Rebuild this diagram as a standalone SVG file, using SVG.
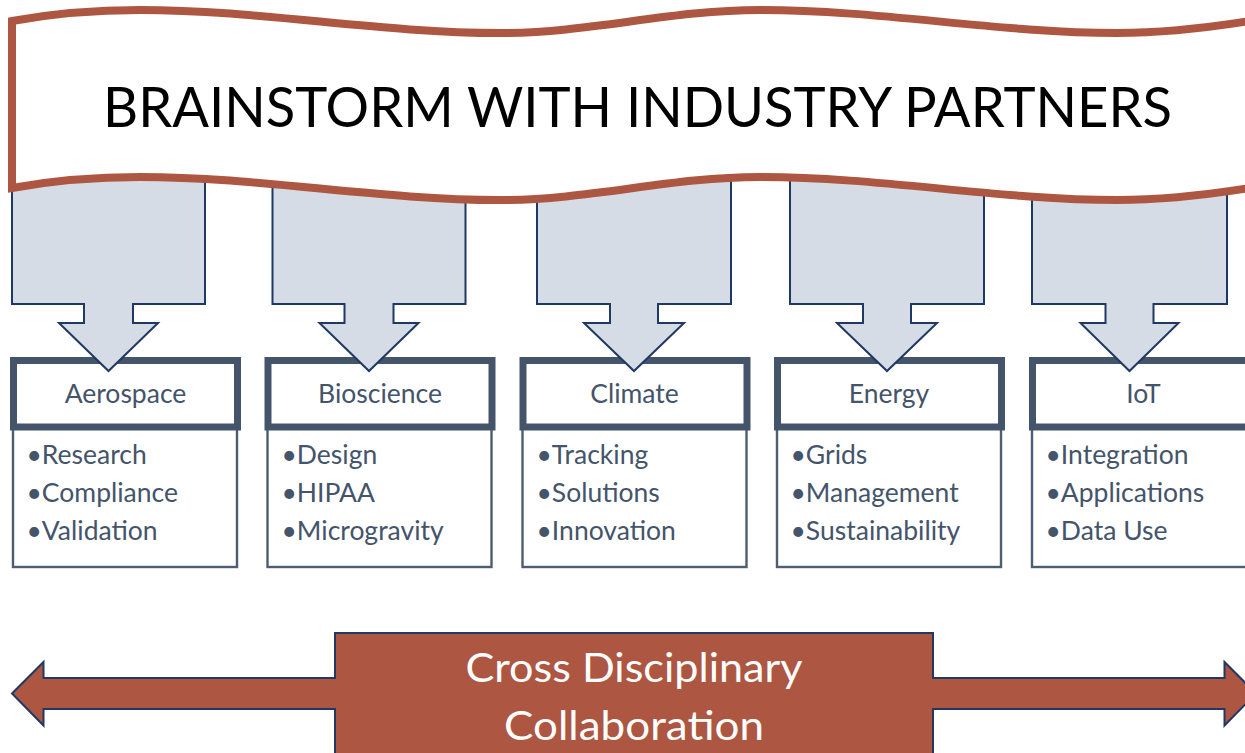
<svg xmlns="http://www.w3.org/2000/svg" width="1245" height="753" viewBox="0 0 1245 753">
<style>
.arrow{fill:#D6DCE5;stroke:#1F3864;stroke-width:2;stroke-linejoin:miter}
.head{fill:#FFFFFF;stroke:#44546A;stroke-width:7}
.body{fill:#FFFFFF;stroke:#4D5D73;stroke-width:2.4}
.ht{font-family:Lato,"Liberation Sans",sans-serif;font-size:26.5px;fill:#44546A;text-anchor:middle}
.bt{font-family:Lato,"Liberation Sans",sans-serif;font-size:26.5px;fill:#44546A}
.banner{fill:#FFFFFF;stroke:#AD5641;stroke-width:8;stroke-linejoin:miter}
.title{font-family:Lato,"Liberation Sans",sans-serif;font-size:57px;fill:#000000;text-anchor:middle}
.collab{fill:#AD5641;stroke:#1F3864;stroke-width:2}
.ct{font-family:Lato,"Liberation Sans",sans-serif;font-size:40px;fill:#FFFFFF;text-anchor:middle}
</style>

<g id="node-aerospace">
<rect class="body" x="13" y="427" width="224" height="140"/>
<rect class="head" x="13.5" y="360.5" width="224" height="66.5"/>
<text class="ht" x="125.5" y="403">Aerospace</text>
<text class="bt" x="26.5" y="464">•Research</text>
<text class="bt" x="26.5" y="502">•Compliance</text>
<text class="bt" x="26.5" y="540">•Validation</text>
</g>
<g id="node-bioscience">
<rect class="body" x="267.5" y="427" width="224" height="140"/>
<rect class="head" x="268" y="360.5" width="224" height="66.5"/>
<text class="ht" x="380" y="403">Bioscience</text>
<text class="bt" x="281.5" y="464">•Design</text>
<text class="bt" x="281.5" y="502">•HIPAA</text>
<text class="bt" x="281.5" y="540">•Microgravity</text>
</g>
<g id="node-climate">
<rect class="body" x="522.5" y="427" width="224" height="140"/>
<rect class="head" x="523" y="360.5" width="224" height="66.5"/>
<text class="ht" x="634.5" y="403">Climate</text>
<text class="bt" x="536.5" y="464">•Tracking</text>
<text class="bt" x="536.5" y="502">•Solutions</text>
<text class="bt" x="536.5" y="540">•Innovation</text>
</g>
<g id="node-energy">
<rect class="body" x="777" y="427" width="224" height="140"/>
<rect class="head" x="777.5" y="360.5" width="224" height="66.5"/>
<text class="ht" x="889" y="403">Energy</text>
<text class="bt" x="790.5" y="464">•Grids</text>
<text class="bt" x="790.5" y="502">•Management</text>
<text class="bt" x="790.5" y="540">•Sustainability</text>
</g>
<g id="node-iot">
<rect class="body" x="1032" y="427" width="224" height="140"/>
<rect class="head" x="1032.5" y="360.5" width="224" height="66.5"/>
<text class="ht" x="1143.5" y="403">IoT</text>
<text class="bt" x="1045.5" y="464">•Integration</text>
<text class="bt" x="1045.5" y="502">•Applications</text>
<text class="bt" x="1045.5" y="540">•Data Use</text>
</g>

<g id="connectors">
<path class="arrow" d="M12,140 H205 V304 H133 V323 H158 L108.5,371 L59,323 H84 V304 H12 Z"/>
<path class="arrow" d="M272.5,140 H465.5 V304 H393.5 V323 H418.5 L369,371 L319.5,323 H344.5 V304 H272.5 Z"/>
<path class="arrow" d="M537,140 H731 V304 H658 V323 H684 L634,371 L584,323 H610 V304 H537 Z"/>
<path class="arrow" d="M790,140 H984 V304 H911 V323 H937 L887,371 L837,323 H863 V304 H790 Z"/>
<path class="arrow" d="M1032,140 H1227 V304 H1153.5 V323 H1178.5 L1129.5,371 L1080.5,323 H1105.5 V304 H1032 Z"/>
</g>

<g id="node-banner">
<path class="banner" d="M12,21 C50,14 100,10 140,10 C260,10 380,33 500,33 C590,33 670,10 760,10 C880,10 1000,33 1117,33 C1170,33 1215,27 1262,19 L1262,186 C1215,194 1170,200 1117,200 C1000,200 880,177 760,177 C670,177 590,200 500,200 C380,200 260,177 140,177 C100,177 50,181 12,188 Z"/>
<text class="title" x="637.5" y="127" textLength="1069" lengthAdjust="spacingAndGlyphs">BRAINSTORM WITH INDUSTRY PARTNERS</text>
</g>

<g id="node-collaboration">
<path class="collab" d="M12,693.5 L43.5,662 V678 H335 V633 H933 V678 H1224.5 V662 L1256,693.5 L1224.5,725.5 V709 H933 V760 H335 V709 H43.5 V725.5 Z"/>
<text class="ct" x="634" y="682" textLength="337" lengthAdjust="spacingAndGlyphs">Cross Disciplinary</text>
<text class="ct" x="634" y="740" textLength="260" lengthAdjust="spacingAndGlyphs">Collaboration</text>
</g>
</svg>
